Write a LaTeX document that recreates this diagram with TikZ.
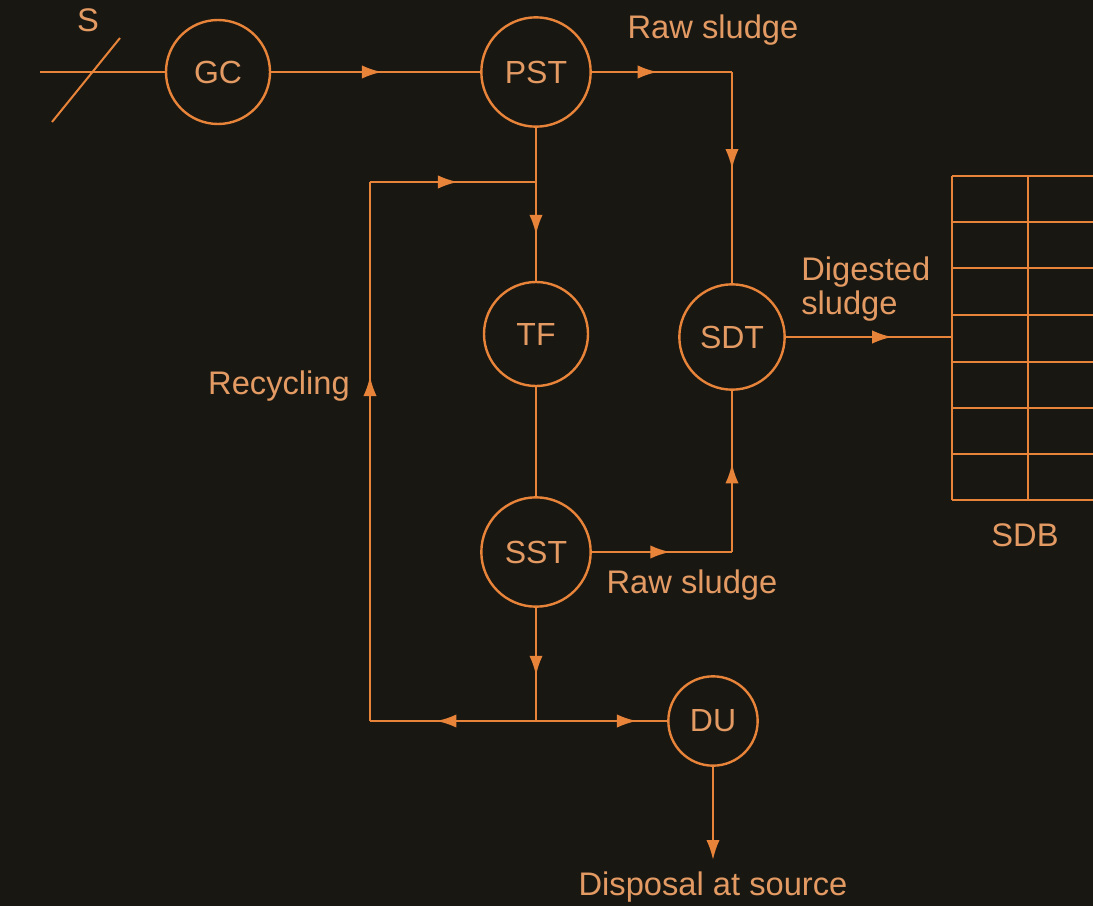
\documentclass[tikz,border=0pt]{standalone}
\usepackage{fontspec}
\setmainfont{Liberation Sans}
\usetikzlibrary{arrows.meta,decorations.markings}
\definecolor{bg}{HTML}{181712}
\definecolor{ln}{HTML}{E8843A}
\definecolor{tx}{HTML}{E39A63}
\begin{document}
\begin{tikzpicture}[x=0.75pt,y=-0.75pt,
  line/.style={draw=ln,color=ln,line width=1.8pt},
  unit/.style={circle,draw=ln,line width=1.8pt,text=tx,font=\fontsize{24}{28}\selectfont,inner sep=0pt},
  lbl/.style={text=tx,font=\fontsize{24.5}{28}\selectfont,inner sep=0pt},
  tip/.style={-{Latex[length=15pt,width=10pt]}},
  arrowat/.style={postaction={decorate},decoration={markings,mark=at position #1 with {\arrow{Latex[length=15pt,width=10pt]}}}},
]
\fill[bg] (0,0) rectangle (1093,906);
\useasboundingbox (0,0) rectangle (1093,906);
\begin{scope}
\clip (0,0) rectangle (1093,906);
% nodes
\node[unit,minimum size=78pt] (GC) at (218,72) {GC};
\node[unit,minimum size=82pt] (PST) at (536,72) {PST};
\node[unit,minimum size=78pt] (TF) at (536,334) {TF};
\node[unit,minimum size=82pt] (SST) at (536,552) {SST};
\node[unit,minimum size=79pt] (SDT) at (732,337) {SDT};
\node[unit,minimum size=67pt] (DU) at (713,721) {DU};
% coordinates
\coordinate (in) at (40,72);
\coordinate (c1) at (732,72);
\coordinate (c2) at (732,552);
\coordinate (j) at (536,721);
\coordinate (r0) at (370,721);
\coordinate (r1) at (370,182);
\coordinate (r2) at (536,182);
\coordinate (sdbw) at (952,337);
\coordinate (out) at (713,860);
% input
\draw[line] (in) -- (GC.west);
\draw[line,line width=1.5pt] (52,122) -- (120,38);
\node[lbl] (S) at (88,20) {S};
% flows
\draw[line,arrowat=0.53] (GC) -- (PST);
\draw[line,arrowat=0.47] (PST.east) -- (c1);
\draw[line,arrowat=0.46] (c1) -- (SDT.north);
\draw[line,arrowat=0.7] (PST.south) -- (TF.north);
\draw[line] (TF.south) -- (SST.north);
\draw[line,arrowat=0.6] (SST.south) -- (j);
\draw[line,arrowat=0.6] (j) -- (r0);
\draw[line,arrowat=0.64] (r0) -- (r1);
\draw[line,arrowat=0.53] (r1) -- (r2);
\draw[line,arrowat=0.77] (j) -- (DU.west);
\draw[line,arrowat=0.56] (SST.east) -- (c2);
\draw[line,arrowat=0.55] (c2) -- (SDT.south);
\draw[line,arrowat=0.64] (SDT.east) -- (sdbw);
\draw[line,tip] (DU.south) -- (out);
% SDB grid
\foreach \yy in {176,222,268,315,362,408,454,500}
  \draw[line,line width=1.5pt] (952,\yy) -- (1100,\yy);
\draw[line,line width=1.5pt] (952,176) -- (952,500);
\draw[line,line width=1.5pt] (1028,176) -- (1028,500);
\end{scope}
% labels
\node[lbl] (rs1) at (713,30) {Raw sludge};
\node[lbl] (rec) at (279,386) {Recycling};
\node[lbl,align=left,anchor=west,font=\fontsize{24.5}{26}\selectfont] (dig) at (801,289) {Digested\\sludge};
\node[lbl] (rs2) at (692,585) {Raw sludge};
\node[lbl] (sdb) at (1025,535) {SDB};
\node[lbl] (disp) at (713,887) {Disposal at source};
\end{tikzpicture}
\end{document}
